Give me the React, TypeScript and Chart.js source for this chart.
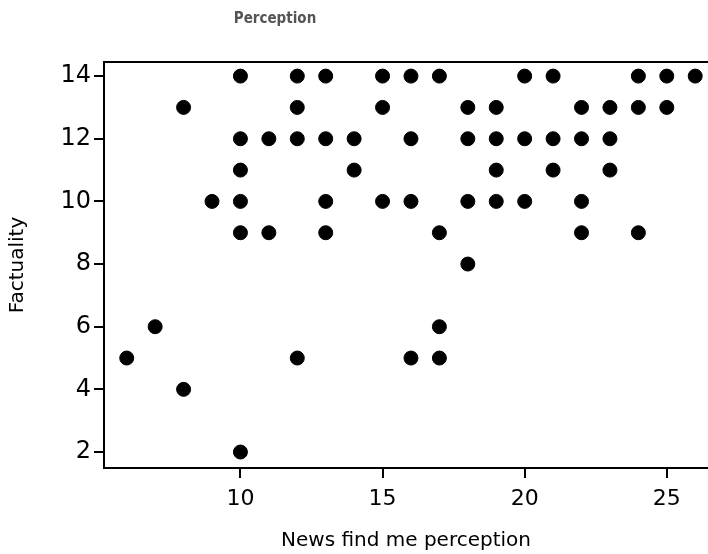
import React, { useEffect, useRef } from "react";
import { Chart, registerables } from "chart.js";

Chart.register(...registerables);

const newsFindMe: number[] = [
  6, 7, 8, 8, 9,
  10, 10, 10, 10, 10, 10,
  11, 11,
  12, 12, 12, 12,
  13, 13, 13, 13,
  14, 14,
  15, 15, 15,
  16, 16, 16, 16,
  17, 17, 17, 17,
  18, 18, 18, 18,
  19, 19, 19, 19,
  20, 20, 20,
  21, 21, 21,
  22, 22, 22, 22,
  23, 23, 23,
  24, 24, 24,
  25, 25,
  26,
];
const factuality: number[] = [
  5, 6, 13, 4, 10,
  14, 12, 11, 10, 9, 2,
  12, 9,
  14, 13, 12, 5,
  14, 12, 10, 9,
  12, 11,
  14, 13, 10,
  14, 12, 10, 5,
  14, 9, 6, 5,
  13, 12, 10, 8,
  13, 12, 11, 10,
  14, 12, 10,
  14, 12, 11,
  13, 12, 10, 9,
  13, 12, 11,
  14, 13, 9,
  14, 13,
  14,
];

const chartTitle = "Perception";
const xTitle = "News find me perception";
const yTitle = "Factuality";

const topBorder = {
  id: "topBorder",
  afterLayout(chart: any) {
    // centre the title over the figure's left portion, as in the reference
    if (chart.titleBlock) {
      chart.titleBlock.left = 0;
      chart.titleBlock.right = 550;
    }
  },
  afterDraw(chart: any) {
    const { ctx, chartArea } = chart;
    ctx.save();
    ctx.strokeStyle = "#000";
    ctx.lineWidth = 2;
    ctx.beginPath();
    ctx.moveTo(chartArea.left - 1, chartArea.top);
    ctx.lineTo(chartArea.right + 2, chartArea.top);
    ctx.stroke();
    ctx.restore();
  },
};

export default function App() {
  const ref = useRef<HTMLCanvasElement | null>(null);
  useEffect(() => {
    if (!ref.current) return;
    const fam = "'DejaVu Sans', 'Liberation Sans', sans-serif";
    const chart = new Chart(ref.current, {
      type: "scatter",
      data: {
        datasets: [
          {
            data: newsFindMe.map((x, i) => ({ x, y: factuality[i] })),
            backgroundColor: "#000",
            borderColor: "#000",
            pointRadius: 7,
            pointHoverRadius: 7,
          },
        ],
      },
      plugins: [topBorder],
      options: {
        animation: false,
        responsive: false,
        devicePixelRatio: 1,
        layout: { autoPadding: false, padding: 0 },
        plugins: {
          legend: { display: false },
          tooltip: { enabled: false },
          title: {
            display: true,
            text: chartTitle,
            color: "#555",
            font: { family: "'DejaVu Sans Condensed', 'DejaVu Sans', sans-serif", size: 15, weight: "bold" },
            padding: { top: 10, bottom: 34 },
          },
        },
        scales: {
          x: {
            type: "linear",
            min: 5.2,
            max: 26.45,
            afterFit: (s: any) => {
              s.height = 86;
            },
            grid: {
              drawOnChartArea: false,
              drawTicks: true,
              tickLength: 10,
              color: "#000",
              lineWidth: 2,
            },
            border: { display: true, color: "#000", width: 2 },
            ticks: {
              stepSize: 5,
              includeBounds: false,
              color: "#000",
              font: { family: fam, size: 22 },
              padding: 8,
              maxRotation: 0,
            },
            title: {
              display: true,
              text: xTitle,
              color: "#000",
              font: { family: fam, size: 20 },
              padding: { top: 0, bottom: 1 },
            },
          },
          y: {
            type: "linear",
            min: 1.49,
            max: 14.45,
            afterFit: (s: any) => {
              s.width = 104;
            },
            grid: {
              drawOnChartArea: false,
              drawTicks: true,
              tickLength: 10,
              color: "#000",
              lineWidth: 2,
            },
            border: { display: true, color: "#000", width: 2 },
            ticks: {
              stepSize: 2,
              includeBounds: false,
              color: "#000",
              font: { family: fam, size: 24 },
              padding: 3,
            },
            title: {
              display: true,
              text: yTitle,
              color: "#000",
              font: { family: fam, size: 20 },
              padding: { top: 6, bottom: 0 },
            },
          },
        },
      },
    } as any);
    return () => chart.destroy();
  }, []);
  return (
    <div style={{ position: "absolute", left: 0, top: 0, width: 708, height: 554, background: "#fff" }}>
      <canvas ref={ref} width={708} height={554} style={{ display: "block" }} />
    </div>
  );
}
